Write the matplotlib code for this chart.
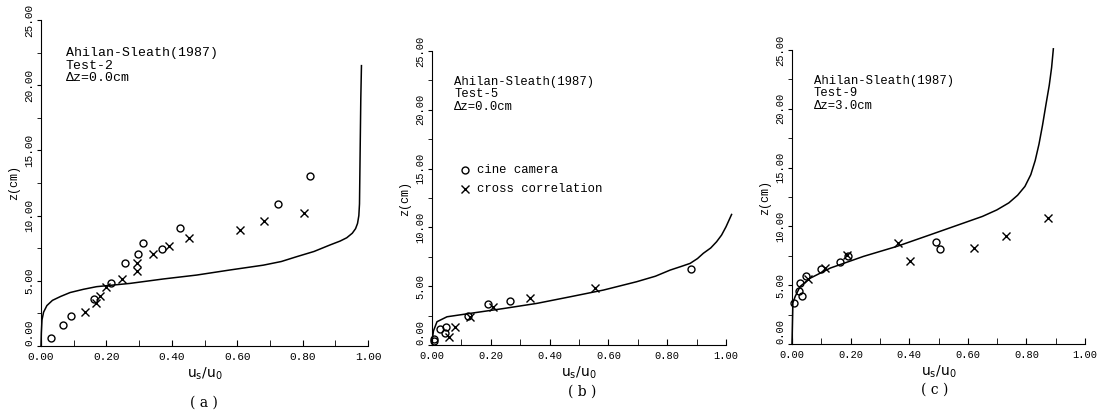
import numpy as np
import matplotlib
matplotlib.use("Agg")
import matplotlib.pyplot as plt

plt.rcParams['font.family'] = ['Liberation Mono', 'DejaVu Sans Mono']

# panel (a) Test-2
a_cine_x = [0.030, 0.068, 0.091, 0.162, 0.213, 0.258, 0.296, 0.311, 0.371, 0.424, 0.725, 0.822]
a_cine_z = [0.59, 1.58, 2.30, 3.62, 4.85, 6.38, 7.04, 7.91, 7.45, 9.08, 10.92, 13.06]
a_cross_x = [0.135, 0.168, 0.180, 0.199, 0.249, 0.294, 0.294, 0.343, 0.391, 0.452, 0.610, 0.681, 0.803]
a_cross_z = [2.60, 3.27, 3.80, 4.50, 5.10, 5.74, 6.38, 7.02, 7.70, 8.32, 8.93, 9.57, 10.20]
a_curve_x = [0.000, 0.001, 0.003, 0.008, 0.018, 0.035, 0.060, 0.089, 0.130, 0.170, 0.272,
             0.374, 0.476, 0.578, 0.680, 0.735, 0.782, 0.835, 0.884, 0.915, 0.935, 0.952,
             0.962, 0.968, 0.972, 0.974, 0.976, 0.978, 0.980]
a_curve_z = [0.00, 1.00, 2.00, 2.60, 3.10, 3.50, 3.80, 4.10, 4.35, 4.55, 4.80,
             5.14, 5.44, 5.83, 6.20, 6.48, 6.85, 7.25, 7.75, 8.05, 8.30, 8.65,
             9.00, 9.40, 10.00, 10.90, 15.00, 19.00, 21.50]

# panel (b) Test-5
b_cine_x = [0.006, 0.008, 0.028, 0.045, 0.049, 0.121, 0.189, 0.266, 0.881]
b_cine_z = [0.48, 0.30, 1.33, 1.05, 1.50, 2.46, 3.48, 3.74, 6.44]
b_cross_x = [0.057, 0.079, 0.128, 0.206, 0.332, 0.555]
b_cross_z = [0.71, 1.50, 2.35, 3.20, 3.96, 4.81]
b_curve_x = [0.000, 0.005, 0.017, 0.051, 0.130, 0.243, 0.357, 0.470, 0.583, 0.696,
             0.760, 0.810, 0.850, 0.878, 0.903, 0.923, 0.948, 0.968, 0.985, 1.000, 1.019]
b_curve_z = [0.30, 1.20, 1.98, 2.40, 2.69, 3.10, 3.54, 4.10, 4.67, 5.38,
             5.85, 6.37, 6.70, 6.94, 7.35, 7.80, 8.25, 8.78, 9.35, 10.05, 11.10]

# panel (c) Test-9
c_cine_x = [0.006, 0.023, 0.034, 0.026, 0.049, 0.100, 0.165, 0.190, 0.492, 0.506]
c_cine_z = [3.48, 4.47, 4.10, 5.18, 5.75, 6.40, 6.94, 7.45, 8.67, 8.10]
c_cross_x = [0.053, 0.111, 0.188, 0.361, 0.403, 0.622, 0.731, 0.875]
c_cross_z = [5.52, 6.50, 7.60, 8.58, 7.10, 8.15, 9.15, 10.70]
c_curve_x = [0.000, 0.003, 0.011, 0.028, 0.0625, 0.131, 0.244, 0.358, 0.472, 0.585,
             0.650, 0.699, 0.740, 0.770, 0.795, 0.815, 0.830, 0.843, 0.855, 0.867,
             0.878, 0.886, 0.892]
c_curve_z = [0.00, 3.50, 4.05, 4.90, 5.60, 6.46, 7.45, 8.30, 9.29, 10.28,
             10.85, 11.40, 12.00, 12.65, 13.40, 14.40, 15.60, 17.00, 18.60, 20.40,
             22.00, 23.50, 25.10]

panels = [
    ("Ahilan-Sleath(1987)\nTest-2\n\u0394z=0.0cm", "( a )",
     a_cine_x, a_cine_z, a_cross_x, a_cross_z, a_curve_x, a_curve_z),
    ("Ahilan-Sleath(1987)\nTest-5\n\u0394z=0.0cm", "( b )",
     b_cine_x, b_cine_z, b_cross_x, b_cross_z, b_curve_x, b_curve_z),
    ("Ahilan-Sleath(1987)\nTest-9\n\u0394z=3.0cm", "( c )",
     c_cine_x, c_cine_z, c_cross_x, c_cross_z, c_curve_x, c_curve_z),
]

W, H = 1098, 415
# axes boxes in pixels: left, top, right, bottom
boxes = [(41, 20, 368, 346), (432, 51, 726, 345), (792, 50, 1085, 344)]
tag_pos = [(204, 403), (582, 392), (935, 390)]
title_size = [9.5, 8.8, 8.8]
tick_size = [8, 7.5, 7.5]

fig = plt.figure(figsize=(W / 100, H / 100), dpi=100)

for i, ((title, tag, cx, cz, xx, xz, lx, lz), (l, t, r, b)) in enumerate(zip(panels, boxes)):
    ax = fig.add_axes([l / W, 1 - b / H, (r - l) / W, (b - t) / H])
    ax.plot(lx, lz, color="black", lw=1.1, clip_on=False)
    ax.plot(cx, cz, linestyle="none", marker="o", ms=5, mfc="none", mec="black", mew=1.0,
            clip_on=False)
    ax.plot(xx, xz, linestyle="none", marker="x", ms=5.5, color="black", mew=1.0, clip_on=False)
    ax.set_xlim(0, 1)
    ax.set_ylim(0, 25)
    ax.spines["top"].set_visible(False)
    ax.spines["right"].set_visible(False)
    ax.set_xticks(np.arange(0, 1.01, 0.2))
    ax.set_xticks(np.arange(0, 1.01, 0.1), minor=True)
    ax.set_yticks(np.arange(0, 25.1, 5))
    ax.set_yticks(np.arange(0, 25.1, 2.5), minor=True)
    ax.set_xticklabels(["%.2f" % v for v in np.arange(0, 1.01, 0.2)], fontsize=tick_size[i])
    ylabels = ax.set_yticklabels(["%.2f" % v for v in np.arange(0, 25.1, 5)],
                                 fontsize=tick_size[i], rotation=90, va="center")
    ylabels[0].set_va("bottom")
    ax.tick_params(axis="x", which="both", direction="in", length=4, pad=4)
    ax.tick_params(axis="y", which="both", direction="out", length=3, pad=2)
    ax.set_ylabel("z(cm)", fontsize=8.5, labelpad=3)
    ax.set_xlabel(r"u$_\mathrm{s}$/u$_\mathrm{0}$", fontsize=10, labelpad=3,
                  family="DejaVu Sans")
    ax.text(0.075, 22.9, title, fontsize=title_size[i], va="top", linespacing=1.05)
    fig.text(tag_pos[i][0] / W, 1 - tag_pos[i][1] / H, tag, ha="center", va="center",
             fontsize=10, family="DejaVu Serif")
    if tag == "( b )":
        ax.plot([0.113], [14.9], linestyle="none", marker="o", ms=5, mfc="none",
                mec="black", mew=1.0)
        ax.plot([0.113], [13.3], linestyle="none", marker="x", ms=5.5, color="black", mew=1.0)
        ax.text(0.152, 14.9, "cine camera", fontsize=8.8, va="center")
        ax.text(0.152, 13.3, "cross correlation", fontsize=8.8, va="center")

fig.savefig("out.png", dpi=100)
